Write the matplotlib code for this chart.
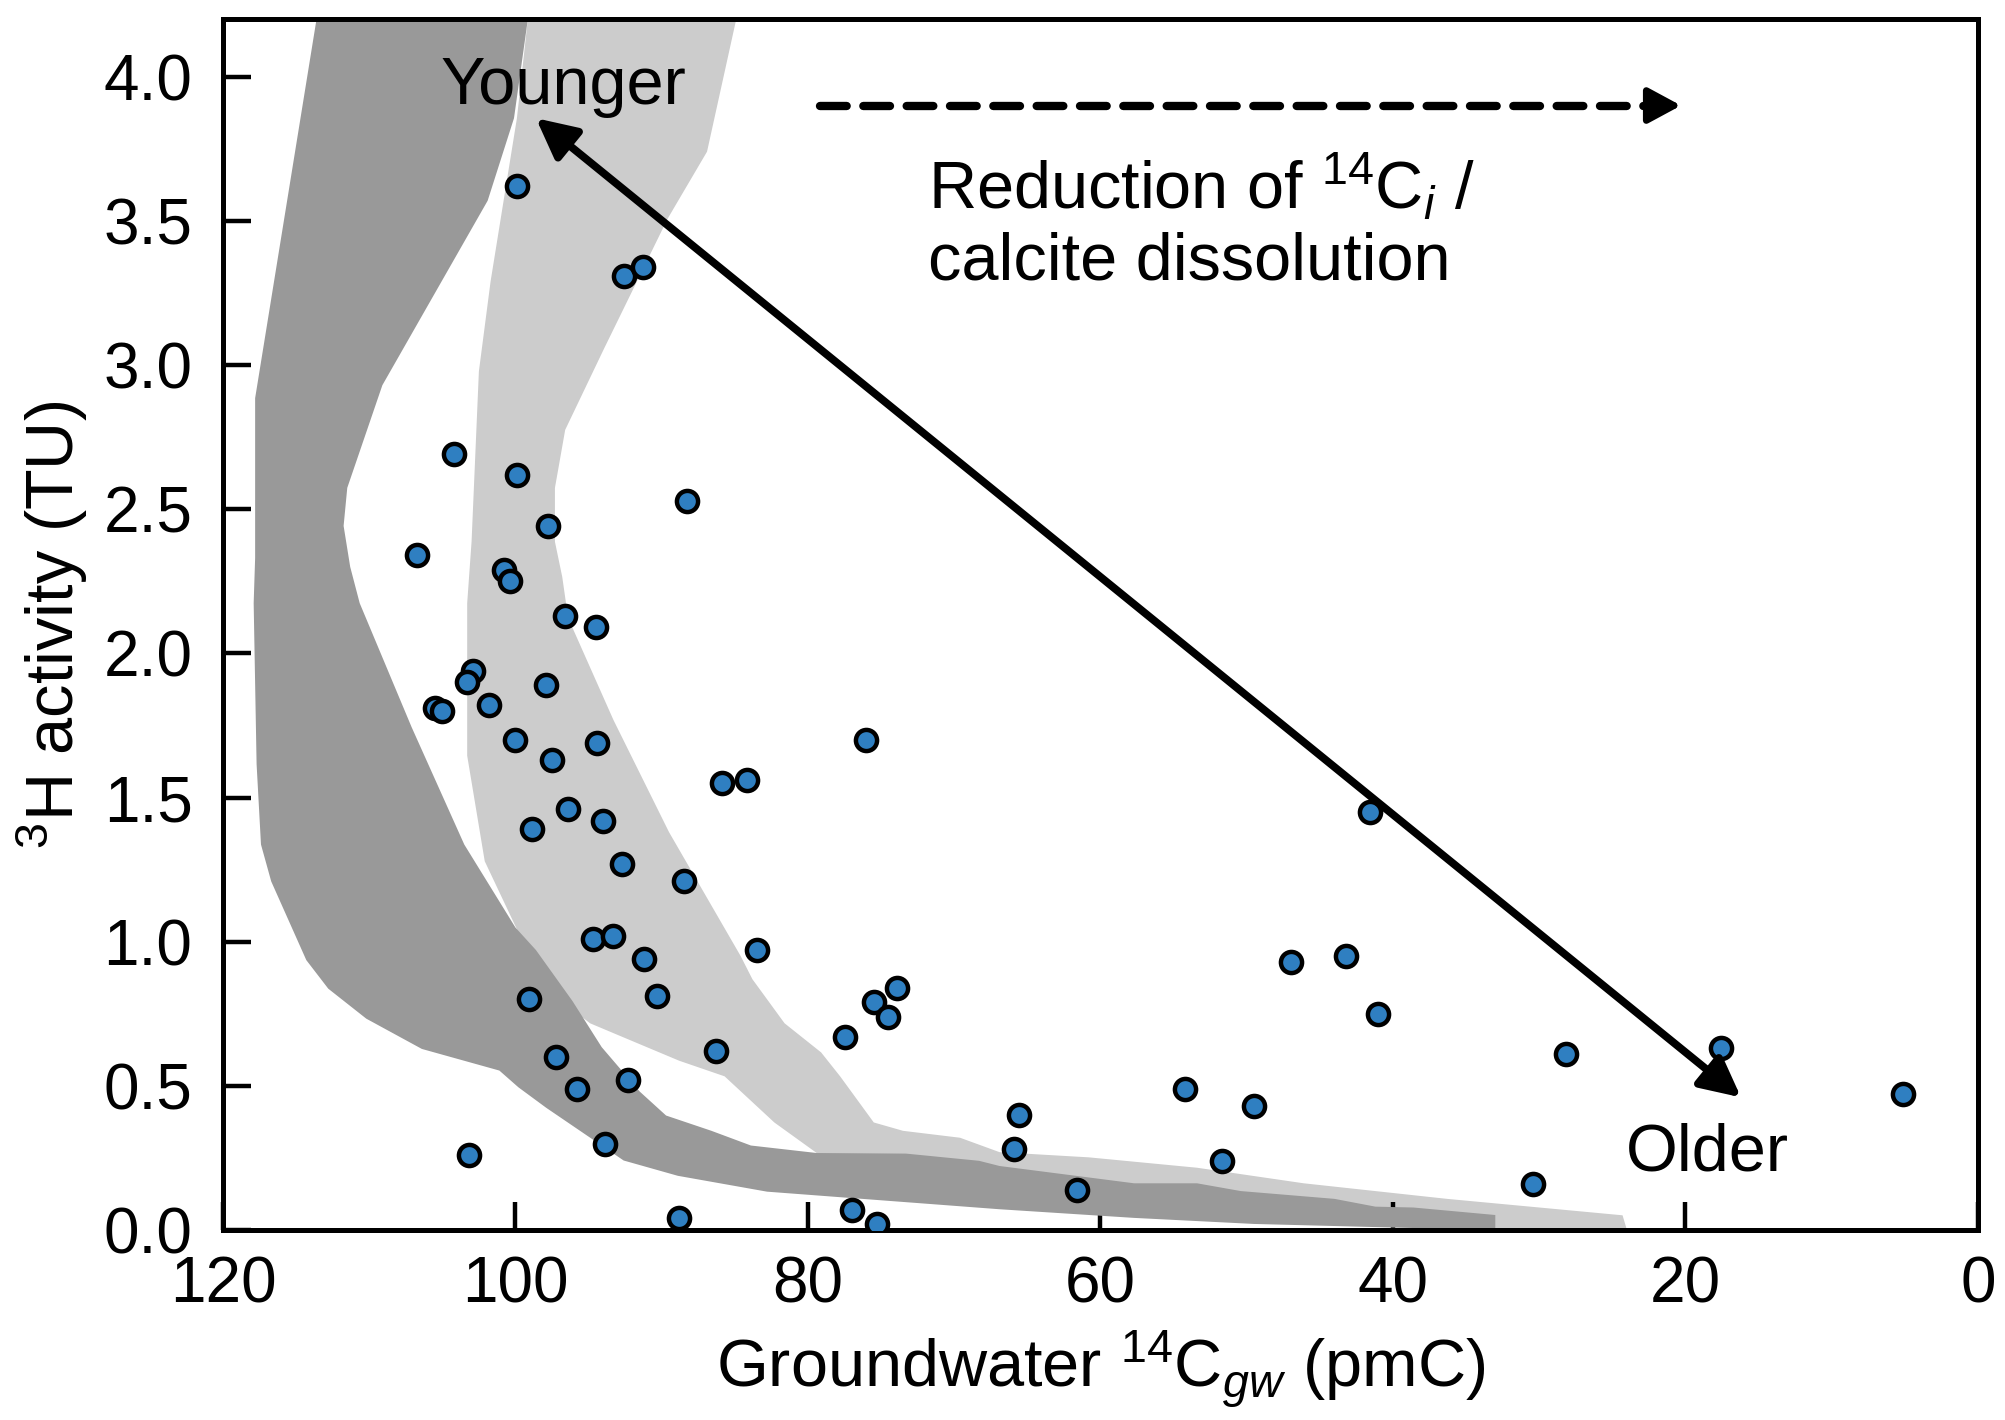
import matplotlib
matplotlib.use("Agg")
import matplotlib.pyplot as plt

plt.rcParams["font.family"] = ["Liberation Sans", "DejaVu Sans"]
plt.rcParams["mathtext.fontset"] = "custom"
plt.rcParams["mathtext.rm"] = "Liberation Sans"
plt.rcParams["mathtext.it"] = "Liberation Sans:italic"

# samples: groundwater 14C (pmC) vs 3H (TU)
c14 = [99.9, 92.6, 91.3, 104.2, 99.9, 88.3, 97.8, 106.7, 100.8, 100.4,
       96.6, 94.5, 102.9, 103.3, 97.9, 105.5, 105.0, 101.8, 100.0, 94.4,
       76.0, 97.5, 85.9, 84.2, 41.6, 96.4, 94.0, 98.9, 92.7, 88.5,
       94.7, 93.3, 83.5, 91.2, 47.0, 43.2, 90.3, 99.1, 73.9, 75.5,
       74.5, 41.0, 77.5, 17.6, 28.2, 97.2, 86.3, 92.3, 95.8, 54.2,
       5.1, 49.5, 65.6, 65.9, 93.9, 103.2, 51.7, 30.4, 61.6, 77.0,
       88.8, 75.3]
tritium = [3.62, 3.31, 3.34, 2.69, 2.62, 2.53, 2.44, 2.34, 2.29, 2.25,
           2.13, 2.09, 1.94, 1.90, 1.89, 1.81, 1.80, 1.82, 1.70, 1.69,
           1.70, 1.63, 1.55, 1.56, 1.45, 1.46, 1.42, 1.39, 1.27, 1.21,
           1.01, 1.02, 0.97, 0.94, 0.93, 0.95, 0.81, 0.80, 0.84, 0.79,
           0.74, 0.75, 0.67, 0.63, 0.61, 0.60, 0.62, 0.52, 0.49, 0.49,
           0.47, 0.43, 0.40, 0.28, 0.30, 0.26, 0.24, 0.16, 0.14, 0.07,
           0.04, 0.02]

# dark grey band (edges traced top -> bottom)
dark_hi_x = [99.15, 100.1, 101.9, 109.1, 111.5, 111.75, 111.3, 110.65, 107.1, 103.5,
             100.0, 98.6, 96.1, 94.1, 91.5, 89.7, 86.6, 83.9, 79.4, 73.3,
             68.3, 66.9, 57.7, 53.4, 50.4, 44.0, 41.2, 38.6, 33.0]
dark_hi_y = [4.2, 3.856, 3.57, 2.93, 2.574, 2.442, 2.30, 2.174, 1.744, 1.337,
             1.049, 0.971, 0.794, 0.634, 0.48, 0.397, 0.344, 0.293, 0.267, 0.265,
             0.24, 0.222, 0.162, 0.162, 0.135, 0.108, 0.081, 0.078, 0.052]
dark_lo_x = [113.6, 117.8, 117.8, 117.9, 117.7, 117.4, 116.7, 114.3, 112.8, 110.2,
             106.4, 101.1, 99.8, 97.9, 92.6, 88.9, 82.8, 66.9, 57.7, 49.5,
             40.3, 33.0]
dark_lo_y = [4.2, 2.885, 2.33, 2.174, 1.616, 1.337, 1.209, 0.936, 0.837, 0.733,
             0.628, 0.553, 0.495, 0.424, 0.241, 0.188, 0.133, 0.072, 0.042, 0.021,
             0.009, 0.0]

# light grey band
light_hi_x = [84.9, 86.9, 89.6, 93.95, 96.6, 97.3, 97.3, 96.8, 96.4, 93.3,
              89.5, 84.6, 83.8, 81.6, 79.1, 77.8, 75.5, 73.5, 69.6, 66.9,
              60.8, 53.4, 46.1, 36.3, 24.3, 24.0]
light_hi_y = [4.2, 3.74, 3.507, 3.056, 2.775, 2.574, 2.387, 2.265, 2.123, 1.769,
              1.38, 0.95, 0.87, 0.717, 0.616, 0.533, 0.373, 0.344, 0.32, 0.27,
              0.252, 0.216, 0.162, 0.108, 0.051, 0.0]
light_lo_x = [99.15, 99.9, 101.7, 102.5, 103.0, 103.3, 103.3, 102.1, 99.5, 97.0,
              94.9, 92.7, 88.8, 85.7, 82.3, 79.4, 73.3, 66.9, 57.7, 50.0,
              40.0, 33.0, 24.0]
light_lo_y = [4.2, 3.856, 3.29, 2.978, 2.388, 2.174, 1.645, 1.279, 1.0, 0.8,
              0.717, 0.67, 0.587, 0.533, 0.373, 0.267, 0.2, 0.15, 0.1, 0.07,
              0.04, 0.004, 0.0]

xticks = [120, 100, 80, 60, 40, 20, 0]
yticks = [0.0, 0.5, 1.0, 1.5, 2.0, 2.5, 3.0, 3.5, 4.0]

fs = 24

fig = plt.figure(figsize=(10.025, 7.1), dpi=200)
ax = fig.add_axes([0.1112, 0.1338, 0.8753, 0.8528])

ax.fill(light_hi_x + light_lo_x[::-1], light_hi_y + light_lo_y[::-1],
        color="#cccccc", lw=0, zorder=1)
ax.fill(dark_hi_x + dark_lo_x[::-1], dark_hi_y + dark_lo_y[::-1],
        color="#999999", lw=0, zorder=2)

ax.scatter(c14, tritium, s=58, c="#2f7fc1", edgecolors="k", linewidths=1.6, zorder=5)

# younger / older arrow
ax.annotate("", xy=(16.2, 0.46), xytext=(98.6, 3.856),
            arrowprops=dict(arrowstyle="<|-|>,head_length=0.5,head_width=0.25",
                            color="k", lw=2.8, mutation_scale=24,
                            shrinkA=0, shrinkB=0), zorder=6)
ax.text(96.7, 3.906, "Younger", ha="center", va="baseline", fontsize=fs)
ax.text(18.5, 0.205, "Older", ha="center", va="baseline", fontsize=fs)

# dashed arrow
ax.plot([79.2, 22.3], [3.9, 3.9], color="k", lw=3.0, ls=(0, (3.2, 2.0)),
        dash_capstyle="round", zorder=6)
ax.annotate("", xy=(20.3, 3.9), xytext=(22.3, 3.9),
            arrowprops=dict(arrowstyle="-|>,head_length=0.5,head_width=0.27",
                            color="k", lw=2.4, mutation_scale=20,
                            shrinkA=0, shrinkB=0, joinstyle="round"), zorder=6)
ax.text(71.8, 3.54, r"Reduction of $^{14}\mathrm{C}_{i}$ /", ha="left",
        va="baseline", fontsize=fs)
ax.text(71.8, 3.295, "calcite dissolution", ha="left", va="baseline", fontsize=fs)

ax.set_xlim(120, 0)
ax.set_ylim(0, 4.2)
ax.set_xticks(xticks)
ax.set_yticks(yticks)
ax.set_yticklabels(["%.1f" % v for v in yticks])
ax.tick_params(axis="both", direction="in", length=10, width=1.6,
               labelsize=23, top=False, right=False)
ax.tick_params(axis="y", pad=11)
ax.tick_params(axis="x", pad=9)
for sp in ax.spines.values():
    sp.set_linewidth(1.8)

ax.set_xlabel(r"Groundwater $^{14}\mathrm{C}_{gw}$ (pmC)", fontsize=fs, labelpad=5)
ax.set_ylabel(r"$^{3}$H activity (TU)", fontsize=fs, labelpad=5)

fig.savefig("out.png", dpi=200)
